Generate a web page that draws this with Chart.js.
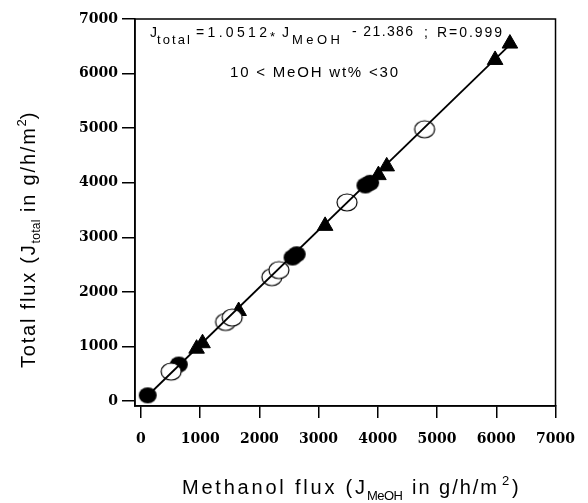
<!DOCTYPE html>
<html>
<head>
<meta charset="utf-8">
<script src="https://cdn.jsdelivr.net/npm/chart.js@4.4.1/dist/chart.umd.min.js"></script>
<style>
  html, body { margin: 0; padding: 0; background: #fff; }
  #wrap { width: 588px; height: 503px; position: relative; }
</style>
</head>
<body>
<div id="wrap"><canvas id="chart"></canvas></div>
<script>
// data (g/h/m2)
var filledX = [115, 640, 2560, 2630, 3790, 3870];
var filledY = [105, 670, 2630, 2690, 3950, 4000];
var openX = [510, 1430, 1540, 2210, 2330, 3480, 4790];
var openY = [540, 1450, 1530, 2270, 2400, 3640, 4980];
var triX = [940, 1040, 1650, 3110, 4010, 4150, 5980, 6230];
var triY = [960, 1060, 1650, 3210, 4140, 4300, 6250, 6550];
var fitX = [100, 6250];
var fitY = [84, 6550];
var tickValues = [0, 1000, 2000, 3000, 4000, 5000, 6000, 7000];

function toPoints(xs, ys) {
  var pts = [];
  for (var i = 0; i < xs.length; i++) pts.push({ x: xs[i], y: ys[i] });
  return pts;
}

function ellipseImg(w, h, filled) {
  var c = document.createElement('canvas');
  c.width = w + 4;
  c.height = h + 4;
  var g = c.getContext('2d');
  g.beginPath();
  g.ellipse(c.width / 2, c.height / 2, w / 2, h / 2, 0, 0, 2 * Math.PI);
  if (filled) {
    g.fillStyle = '#000';
    g.fill();
  } else {
    g.fillStyle = '#fff';
    g.fill();
    g.lineWidth = 1.2;
    g.strokeStyle = '#000';
    g.stroke();
  }
  return c;
}

var SANS = '"Liberation Sans", Arial, sans-serif';

// draw text stretched between x0 and x1 by letter spacing
function drawFit(ctx, text, x0, x1, y, size) {
  ctx.font = size + 'px ' + SANS;
  ctx.letterSpacing = '0px';
  if (x1 != null && text.length > 1) {
    var w = ctx.measureText(text).width;
    ctx.letterSpacing = ((x1 - x0 - w) / (text.length - 1)) + 'px';
  }
  ctx.fillText(text, x0, y);
  ctx.letterSpacing = '0px';
}

function drawRuns(ctx, runs, x, y) {
  for (var i = 0; i < runs.length; i++) {
    var r = runs[i];
    ctx.font = r[1] + 'px ' + SANS;
    ctx.letterSpacing = r[3] + 'px';
    ctx.fillText(r[0], x, y + r[2]);
    x += ctx.measureText(r[0]).width;
  }
  ctx.letterSpacing = '0px';
}

var textPlugin = {
  id: 'texts',
  afterDraw: function (chart) {
    var ctx = chart.ctx;
    var a = chart.chartArea;
    ctx.save();
    ctx.strokeStyle = '#000';
    ctx.lineWidth = 1.5;
    ctx.strokeRect(a.left, a.top, a.right - a.left, a.bottom - a.top);

    ctx.fillStyle = '#000';
    ctx.textBaseline = 'alphabetic';
    ctx.textAlign = 'left';

    // regression equation
    drawFit(ctx, 'J', 150, null, 37, 14);
    drawFit(ctx, 'total', 157, 190, 44, 13);
    drawFit(ctx, '=1.0512', 196, 267, 37, 14);
    drawFit(ctx, '*', 270, null, 41, 13);
    drawFit(ctx, 'J', 282, null, 37, 14);
    drawFit(ctx, 'MeOH', 292, 340, 44, 13);
    drawFit(ctx, '- 21.386', 352, 413, 36, 14);
    drawFit(ctx, ';', 424, null, 37, 14);
    drawFit(ctx, 'R=0.999', 437, 502, 37, 14);
    drawFit(ctx, '10 < MeOH wt% <30', 230, 398, 77, 15);

    // x axis title
    drawFit(ctx, 'Methanol flux (J', 182, 365, 494, 20);
    drawFit(ctx, 'MeOH', 367, 403, 500, 13);
    drawFit(ctx, 'in g/h/m', 412, 497, 494, 20);
    drawFit(ctx, '2', 502, null, 485, 13);
    drawFit(ctx, ')', 512, null, 494, 20);

    // y axis title
    ctx.translate(35, 368);
    ctx.rotate(-Math.PI / 2);
    drawRuns(ctx, [
      ['Total flux (J', 20, 0, 1.8],
      ['total', 12, 5, 0.3],
      [' in g/h/m', 20, 0, 1.8],
      ['2', 13, -9, 0],
      [')', 20, 0, 1.8]
    ], 0, 0);
    ctx.restore();
  }
};

function axisOpts(tickLen, pad, fit) {
  return {
    type: 'linear',
    afterBuildTicks: function (s) {
      s.ticks = tickValues.map(function (v) { return { value: v }; });
    },
    afterFit: fit,
    grid: { drawOnChartArea: false, color: '#000', lineWidth: 1.5, tickLength: tickLen },
    border: { display: true, color: '#000', width: 1.5 },
    ticks: {
      color: '#000',
      font: { family: '"DejaVu Serif", serif', size: 14, weight: 'bold' },
      padding: pad,
      autoSkip: false,
      maxRotation: 0,
      callback: function (v) { return String(v); }
    }
  };
}

var xOpts = axisOpts(12, 13, function (s) { s.height = 97; });
xOpts.min = -100;
xOpts.max = 7000;
var yOpts = axisOpts(13, 4, function (s) { s.width = 135; });
yOpts.min = -90;
yOpts.max = 7000;

new Chart(document.getElementById('chart'), {
  type: 'scatter',
  data: {
    datasets: [
      {
        type: 'line',
        data: toPoints(fitX, fitY),
        borderColor: '#000',
        borderWidth: 1.8,
        pointRadius: 0,
        fill: false
      },
      {
        data: toPoints(openX, openY),
        pointStyle: ellipseImg(20, 17, false)
      },
      {
        data: toPoints(filledX, filledY),
        pointStyle: ellipseImg(18, 16, true)
      },
      {
        data: toPoints(triX, triY),
        pointStyle: 'triangle',
        pointRadius: 9,
        backgroundColor: '#000',
        borderColor: '#000',
        borderWidth: 1
      }
    ]
  },
  options: {
    responsive: true,
    maintainAspectRatio: false,
    animation: false,
    layout: { padding: { top: 19, right: 21, left: 0, bottom: 0 } },
    plugins: { legend: { display: false }, tooltip: { enabled: false } },
    scales: { x: xOpts, y: yOpts }
  },
  plugins: [textPlugin]
});
</script>
</body>
</html>
